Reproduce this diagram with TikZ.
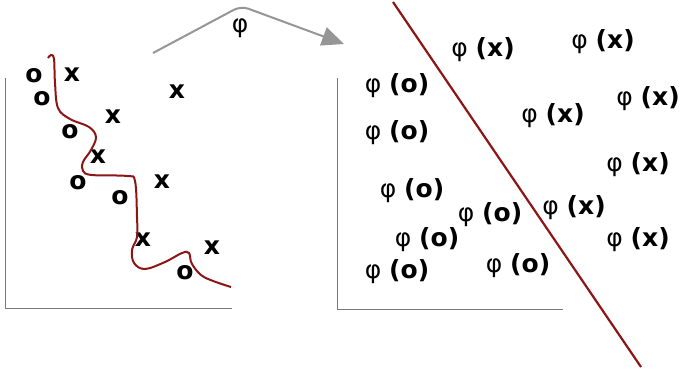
\documentclass[tikz,border=0pt]{standalone}
\usepackage{fontspec}
\setmainfont{DejaVu Sans}
\usetikzlibrary{arrows.meta}
\definecolor{sep}{RGB}{140,22,22}
\definecolor{arr}{RGB}{150,150,150}
\definecolor{axis}{RGB}{120,120,120}
\begin{document}
\begin{tikzpicture}[x=1pt,y=-1pt,
  pt/.style={font=\fontsize{25}{27}\selectfont\bfseries, inner sep=0pt},
  fx/.style={font=\fontsize{25}{27}\selectfont, inner sep=0pt},
  axisline/.style={draw=axis, line width=1pt},
  sepline/.style={draw=sep, line width=2.2pt}]
\useasboundingbox[fill=white] (0,0) rectangle (685,368);
% left axes
\coordinate (lt) at (5,78);
\coordinate (lo) at (5,308);
\coordinate (lr) at (232,308);
\draw[axisline] (lt) -- (lo) -- (lr);
% left points
\node[pt] (o1) at (34,76) {o};
\node[pt] (x1) at (72,75) {x};
\node[pt] (o2) at (42,99) {o};
\node[pt] (x2) at (177,92) {x};
\node[pt] (x3) at (113,117) {x};
\node[pt] (o3) at (70,132) {o};
\node[pt] (x4) at (98,157) {x};
\node[pt] (o4) at (78,183) {o};
\node[pt] (o5) at (120,198) {o};
\node[pt] (x5) at (162,182) {x};
\node[pt] (x6) at (143,240) {x};
\node[pt] (x7) at (212,248) {x};
\node[pt] (o6) at (185,273) {o};
% wiggly boundary
\draw[sepline, line width=2pt] plot[smooth, tension=0.6] coordinates {
 (48,58) (51,55) (54,59) (55,83) (58,108) (70,119) (89,127) (96,137)
 (91,150) (83,162) (83,171) (92,175) (127,176) (135,181) (137,217)
 (137,237) (132,250) (134,263) (145,269) (165,262) (182,253) (189,253)
 (192,264) (204,277) (231,287)};
% mapping arrow
\coordinate (as) at (153,53);
\coordinate (ap) at (241,6);
\coordinate (ae) at (344,44);
\draw[draw=arr, line width=2pt, rounded corners=8pt, -{Triangle[length=22pt,width=19pt]}]
  (as) -- (ap) -- (ae);
\node[fx] (phi) at (240,28) {φ};
% right axes
\coordinate (rt) at (337,78);
\coordinate (ro) at (337,309);
\coordinate (rr) at (563,309);
\draw[axisline] (rt) -- (ro) -- (rr);
% separating line
\coordinate (st) at (393,2);
\coordinate (sb) at (641,367);
\draw[sepline] (st) -- (sb);
% mapped points
\node[fx] (p1) at (483,50) {φ \textbf{(x)}};
\node[fx] (p2) at (603,42) {φ \textbf{(x)}};
\node[fx] (p3) at (397,86) {φ \textbf{(o)}};
\node[fx] (p4) at (648,99) {φ \textbf{(x)}};
\node[fx] (p5) at (553,116) {φ \textbf{(x)}};
\node[fx] (p6) at (397,133) {φ \textbf{(o)}};
\node[fx] (p7) at (638,165) {φ \textbf{(x)}};
\node[fx] (p8) at (412,191) {φ \textbf{(o)}};
\node[fx] (p9) at (490,215) {φ \textbf{(o)}};
\node[fx] (p10) at (574,208) {φ \textbf{(x)}};
\node[fx] (p11) at (427,240) {φ \textbf{(o)}};
\node[fx] (p12) at (638,240) {φ \textbf{(x)}};
\node[fx] (p13) at (397,272) {φ \textbf{(o)}};
\node[fx] (p14) at (518,266) {φ \textbf{(o)}};
\end{tikzpicture}
\end{document}
